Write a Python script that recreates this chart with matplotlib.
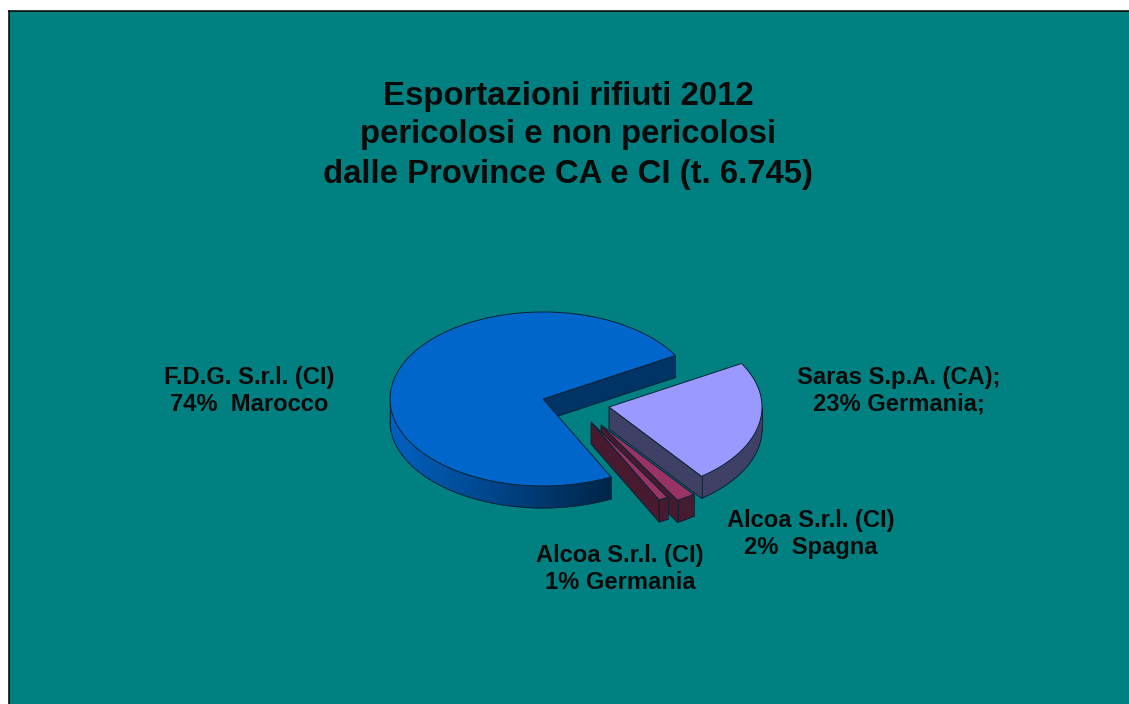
import numpy as np
import matplotlib as mpl
import matplotlib.pyplot as plt

mpl.use("Agg")

plt.rcParams.update({"font.family": ["Liberation Sans", "DejaVu Sans"]})
plt.rcParams.update({"font.weight": "bold"})

title_lines = [
    "Esportazioni rifiuti 2012",
    "pericolosi e non pericolosi",
    "dalle Province CA e CI (t. 6.745)",
]
slice_names = ["F.D.G.", "Alcoa 1", "Alcoa 2", "Saras"]
slice_values = [74, 1, 2, 23]
slice_labels = [
    "F.D.G. S.r.l. (CI)\n74%  Marocco",
    "Alcoa S.r.l. (CI)\n1% Germania",
    "Alcoa S.r.l. (CI)\n2%  Spagna",
    "Saras S.p.A. (CA);\n23% Germania;",
]

# pixel layout of the fake 3d pie
center_x, center_y = 543, 399
rx, ry = 153, 87
depth = 22
start_angle = 30
offsets = [(0, 0), (48, 23), (58, 26), (66, 8)]
top_colors = ["#0066CC", "#993366", "#993366", "#9999FF"]
wall_colors = ["#003366", "#471A30", "#471A30", "#404066"]
edge_color = "#0B2233"
label_pos = [(249, 391), (620, 569), (811, 534), (899, 391)]
# back to front, the 1% slice sits in front of the 2% one
draw_rank = [0, 3, 2, 1]


def ell(angle, ox, oy, dz=0):
    rad = np.radians(angle)
    return center_x + ox + rx * np.cos(rad), center_y + oy - ry * np.sin(rad) + dz


def outer_wall_color(i, angle):
    c = np.array(mpl.colors.to_rgb(top_colors[i]))
    if i == 0:
        # left side of the big slice is bright, it gets dark going right
        f = 0.95 - 0.6 * (np.cos(np.radians(angle)) + 1) / 1.45
        return tuple(c * f)
    return wall_colors[i]


def draw_slice(ax, i, a0, a1):
    ox, oy = offsets[i]
    z = draw_rank[i] * 3
    apex = (center_x + ox, center_y + oy)
    apex_low = (apex[0], apex[1] + depth)

    # radial wall first, top face covers what should be hidden
    p = ell(a0, ox, oy)
    q = ell(a0, ox, oy, depth)
    ax.fill(
        [apex[0], p[0], q[0], apex_low[0]],
        [apex[1], p[1], q[1], apex_low[1]],
        facecolor=wall_colors[i],
        edgecolor=edge_color,
        lw=0.7,
        zorder=2 + z,
    )

    # outer wall, only the part turned to the viewer
    angles = np.arange(a0, a1, 1.0)
    angles = np.append(angles, a1)
    for b0, b1 in zip(angles[:-1], angles[1:]):
        if np.sin(np.radians((b0 + b1) / 2)) > 0:
            continue
        p0, p1 = ell(b0, ox, oy), ell(b1, ox, oy)
        q0, q1 = ell(b0, ox, oy, depth), ell(b1, ox, oy, depth)
        col = outer_wall_color(i, b0)
        ax.fill(
            [p0[0], p1[0], q1[0], q0[0]],
            [p0[1], p1[1], q1[1], q0[1]],
            facecolor=col,
            edgecolor=col,
            lw=0.5,
            zorder=3 + z,
        )
    front = angles[np.sin(np.radians(angles)) <= 0]
    if len(front) > 1:
        low = [ell(a, ox, oy, depth) for a in front]
        ax.plot(*zip(*low), color=edge_color, lw=0.7, zorder=3 + z)
        for a in (front[0], front[-1]):
            ax.plot(*zip(ell(a, ox, oy), ell(a, ox, oy, depth)),
                    color=edge_color, lw=0.6, zorder=3 + z)

    # top face
    pts = [apex] + [ell(a, ox, oy) for a in angles]
    ax.fill(*zip(*pts), facecolor=top_colors[i], edgecolor=edge_color, lw=0.7,
            zorder=4 + z)


fig = plt.figure(figsize=(11.29, 7.04), dpi=100, facecolor="white")
ax = fig.add_axes([8.5 / 1129, 0, 1120.5 / 1129, 693.5 / 704])
ax.set_xlim(8.5, 1129)
ax.set_ylim(704, 10.5)
ax.set_facecolor("#008080")
ax.set_xticks([])
ax.set_yticks([])
ax.spines["right"].set_visible(False)
ax.spines["bottom"].set_visible(False)
ax.spines["top"].set_linewidth(1.1)
ax.spines["left"].set_linewidth(1.1)

angle = start_angle
for i, v in enumerate(slice_values):
    span = v / sum(slice_values) * 360
    draw_slice(ax, i, angle, angle + span)
    angle += span

for line, y in zip(title_lines, [96, 134, 174]):
    ax.text(568, y, line, ha="center", va="center", fontsize=23.7, color="#0a0a0a")

for text, (x, y) in zip(slice_labels, label_pos):
    ax.text(x, y, text, ha="center", va="center", fontsize=17.1, color="#0a0a0a",
            linespacing=1.22, zorder=30)

plt.savefig("out.png", dpi=100)
